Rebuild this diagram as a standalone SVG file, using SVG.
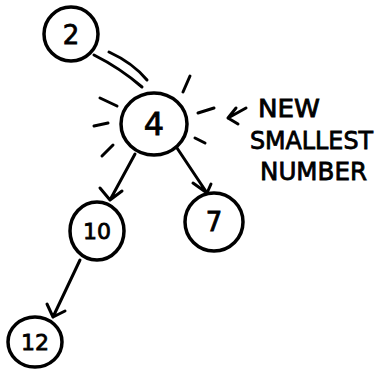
<svg xmlns="http://www.w3.org/2000/svg" width="375" height="369" viewBox="0 0 375 369">
<style>
.n{fill:none;stroke:#000;stroke-width:3.5;stroke-linecap:round}
.l{fill:none;stroke:#000;stroke-width:3;stroke-linecap:round;stroke-linejoin:round}
.t{font-family:"DejaVu Sans","Liberation Sans",sans-serif;font-size:26px;fill:#000;stroke:#000;stroke-width:0.8;text-anchor:middle}
.c{font-family:"DejaVu Sans","Liberation Sans",sans-serif;font-size:22px;fill:#000;stroke:#000;stroke-width:0.8;text-anchor:middle}
</style>
<rect width="375" height="369" fill="#fff"/>
<g id="connectors">
<path class="l" d="M94 55 Q120 68 142 87"/>
<path class="l" d="M109 52 Q133 63 147 80"/>
<path class="l" d="M135 154 L110 200 M100 188 L110 200 L122 191"/>
<path class="l" d="M177 148 L207 193 M193 183 L207 193 L211 184"/>
<path class="l" d="M80 260 L53 317 M47 304 L53 317 L65 311"/>
</g>
<g id="rays">
<path class="l" d="M100 98 L117 106 M94 126 L108 123 M102 156 L113 145 M183 92 L190 76 M198 113 L214 108 M195 138 L205 143"/>
</g>
<g id="node-2"><ellipse class="n" cx="71" cy="34" rx="27" ry="27"/><text class="t" x="71" y="44">2</text></g>
<g id="node-4"><ellipse class="n" cx="154" cy="124" rx="33" ry="31"/><text class="t" x="154" y="135" style="font-size:32px">4</text></g>
<g id="node-10"><ellipse class="n" cx="97" cy="231" rx="27" ry="29"/><text class="c" x="97" y="239">10</text></g>
<g id="node-7"><ellipse class="n" cx="214" cy="222" rx="29" ry="29"/><text class="t" x="214" y="231">7</text></g>
<g id="node-12"><ellipse class="n" cx="35" cy="342" rx="27" ry="25"/><text class="c" x="35" y="350">12</text></g>
<g id="label">
<path class="l" d="M246 108 L228 118 M236 108 L228 118 L238 124"/>
<text font-family="DejaVu Sans, sans-serif" font-size="24" fill="#000" stroke="#000" stroke-width="0.8"><tspan x="258" y="117" textLength="62" lengthAdjust="spacingAndGlyphs">NEW</tspan><tspan x="250" y="149" textLength="123" lengthAdjust="spacingAndGlyphs">SMALLEST</tspan><tspan x="260" y="180" textLength="107" lengthAdjust="spacingAndGlyphs">NUMBER</tspan></text>
</g>
</svg>
